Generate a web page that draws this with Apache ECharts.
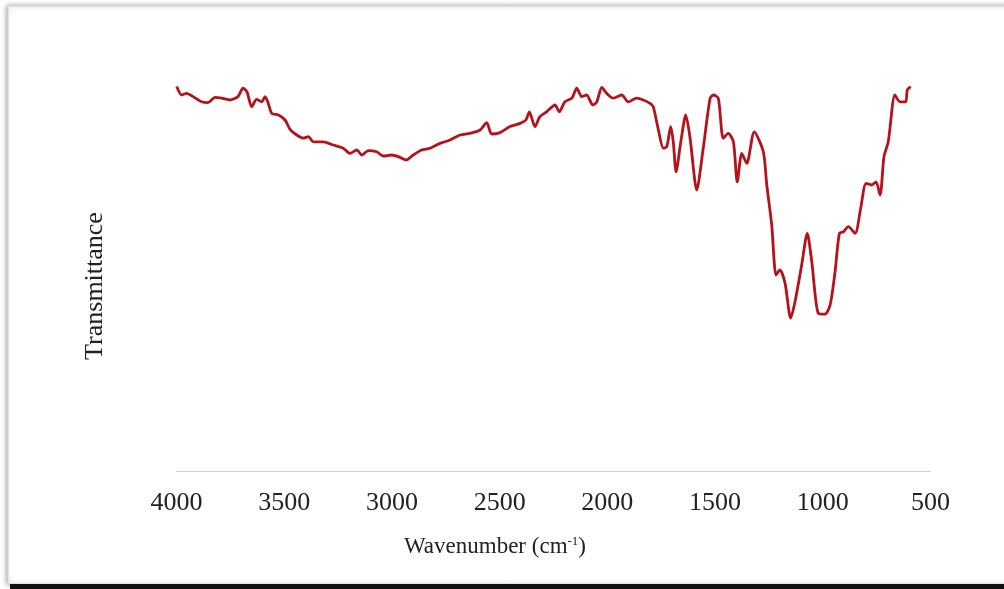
<!DOCTYPE html>
<html>
<head>
<meta charset="utf-8">
<script src="https://cdn.jsdelivr.net/npm/echarts@6/dist/echarts.min.js"></script>
<style>html,body{margin:0;padding:0;background:#fff;}#c{width:1004px;height:589px;}</style>
</head>
<body>
<div id="c"></div>
<script>
var wavenumber = [3999,3976,3953,3923,3883,3854,3821,3790,3752,3715,3691,3673,3651,3628,3604,3589,3574,3558,3527,3496,3473,3442,3411,3388,3365,3319,3272,3226,3195,3163,3140,3110,3071,3040,3001,2970,2935,2901,2862,2823,2777,2730,2684,2638,2591,2560,2537,2498,2452,2405,2378,2362,2336,2313,2282,2243,2223,2197,2165,2142,2119,2096,2068,2049,2026,2003,1972,1933,1903,1864,1833,1802,1787,1763,1740,1724,1706,1694,1681,1659,1636,1616,1585,1555,1523,1508,1485,1462,1439,1415,1397,1376,1353,1318,1276,1260,1237,1217,1199,1175,1149,1129,1098,1072,1051,1021,990,966,943,923,905,881,850,824,799,773,753,734,716,696,665,642,615,608,592];
var transmittance = [96.1,94.0,94.4,93.6,92.3,92.1,93.4,93.2,92.75,93.6,95.7,94.8,91.1,92.9,92.3,93.6,91.9,89.4,89.0,87.75,85.4,84.0,83.2,83.6,82.3,82.3,81.5,80.7,79.4,80.25,79.0,80.1,79.8,78.75,79.0,78.6,77.75,79.0,80.25,80.7,81.9,82.75,84.0,84.4,85.25,87.1,84.25,84.6,86.1,86.9,87.75,89.8,86.1,88.6,89.8,91.5,89.8,92.3,93.2,95.7,93.6,94.0,91.5,92.3,95.9,94.4,93.2,94.0,92.3,93.2,92.75,91.9,91.1,85.25,80.7,81.1,86.1,82.3,74.8,82.3,89.0,83.2,70.25,80.7,93.2,94.0,93.2,83.2,84.4,82.3,72.3,79.4,76.9,84.8,79.8,71.5,61.5,49.0,50.25,46.9,38.2,42.3,51.5,59.4,52.3,39.4,39.2,41.5,49.8,59.4,59.8,61.1,59.4,65.7,71.9,71.5,72.3,69.0,78.6,82.3,94.0,92.3,92.3,95.25,96.1];
var xTicks = [4000,3500,3000,2500,2000,1500,1000,500];
var xAxisTitle = 'Wavenumber (cm';
var xAxisTitleSup = '-1';
var yAxisTitle = 'Transmittance';

var points = wavenumber.map(function(w,i){return [w, transmittance[i]];});
var chart = echarts.init(document.getElementById('c'), null, {renderer:'canvas'});
var serif = '"Liberation Serif","DejaVu Serif",serif';
chart.setOption({
  animation:false,
  backgroundColor:'#fff',
  grid:{left:176.5, right:73.5, top:71, bottom:118, containLabel:false},
  xAxis:{
    type:'value', inverse:true, min:500, max:4000, interval:500,
    axisLine:{show:true, lineStyle:{color:'#d0d0d0', width:1}},
    axisTick:{show:false},
    splitLine:{show:false},
    axisLabel:{fontFamily:serif, fontSize:26, color:'#222', margin:19,
      formatter:function(v){return xTicks.indexOf(v)>=0 ? String(v) : '';}}
  },
  yAxis:{
    type:'value', min:0, max:100,
    axisLine:{show:false}, axisTick:{show:false}, axisLabel:{show:false}, splitLine:{show:false}
  },
  graphic:[
    {type:'rect', z:-10, silent:true, shape:{x:8, y:6, width:1010, height:578},
      style:{fill:'#fff', stroke:'#d4d4d4', lineWidth:1, shadowBlur:5, shadowColor:'rgba(0,0,0,0.35)', shadowOffsetX:-1, shadowOffsetY:0}},
    {type:'rect', z:-5, silent:true, shape:{x:10, y:584, width:1000, height:6}, style:{fill:'#111'}},
    {type:'text', silent:true, x:495, y:547, style:{
      text:'{a|'+xAxisTitle+'}{s|'+xAxisTitleSup+'}{a|)}', align:'center', verticalAlign:'middle',
      rich:{a:{fontFamily:serif, fontSize:23, fill:'#222'}, s:{fontFamily:serif, fontSize:13, fill:'#222', verticalAlign:'top', padding:[0,0,10,0]}}
    }},
    {type:'text', silent:true, x:95, y:286, rotation:Math.PI/2, style:{
      text:yAxisTitle, align:'center', verticalAlign:'middle', fontFamily:serif, fontSize:26, fill:'#222'
    }}
  ],
  series:[{
    type:'line', data:points, showSymbol:false, smooth:0.25,
    lineStyle:{color:'#B5121B', width:2.8}
  }]
});
</script>
</body>
</html>
